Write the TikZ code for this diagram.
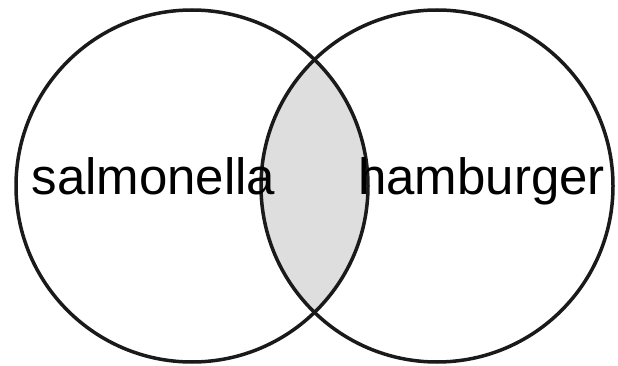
\documentclass[tikz,border=0pt]{standalone}
\usepackage{fontspec}
\setmainfont{Liberation Sans}
\usetikzlibrary{positioning}
\definecolor{overlap}{HTML}{DEDEDE}
\definecolor{edge}{HTML}{1A1A1A}

\begin{document}
\begin{tikzpicture}[x=1pt,y=-1pt,
  set/.style={circle,draw=edge,line width=3.5pt,minimum size=352pt,inner sep=0pt},
  every node/.style={font=\fontsize{51}{51}\selectfont}]
\useasboundingbox (0,0) rectangle (618,366);
\begin{scope}
  \clip (192,186) circle (176);
  \fill[overlap] (437,186) circle (176);
\end{scope}
\node[set] (s) at (192,186) {};
\node[set] (h) at (437,186) {};
\node[anchor=base,inner sep=0pt] (sl) at (153.5,195) {salmonella};
\node[anchor=base,inner sep=0pt] (hl) at (481.5,195) {hamburger};
\end{tikzpicture}
\end{document}
